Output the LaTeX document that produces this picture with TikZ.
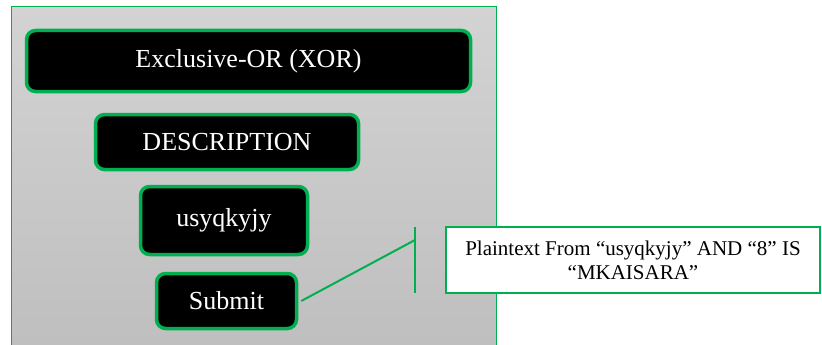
\documentclass[tikz,border=0pt]{standalone}
\usepackage{fontspec}
\setmainfont{Liberation Serif}
\definecolor{xgreen}{HTML}{00B050}
\definecolor{ptop}{HTML}{D3D3D3}
\definecolor{pbot}{HTML}{BEBEBE}
\tikzset{
  bigbox/.style={draw=xgreen, line width=3.5pt, fill=black, rounded corners=9pt,
    text=white, font=\fontsize{26}{31}\selectfont, inner sep=0pt},
  callbox/.style={draw=xgreen, line width=2pt, fill=white, inner sep=0pt,
    font=\fontsize{21}{24}\selectfont, align=center},
  callline/.style={draw=xgreen, line width=2pt}
}
\begin{document}
\begin{tikzpicture}[x=1pt,y=-1pt]
\useasboundingbox (0,0) rectangle (822,345);
\clip (0,0) rectangle (822,345);
\shade[top color=ptop, bottom color=pbot] (11,7) rectangle (496,360);
\draw[xgreen, line width=1pt] (11,360) -- (11,7) -- (496,7) -- (496,360);
\node[bigbox, minimum width=444pt, minimum height=61pt] (xor) at (248.5,61) {Exclusive-OR (XOR)};
\node[bigbox, minimum width=263pt, minimum height=55pt] (desc) at (227,142) {DESCRIPTION};
\node[bigbox, minimum width=167pt, minimum height=68pt] (key) at (224,220.5) {usyqkyjy};
\node[bigbox, minimum width=140pt, minimum height=55pt] (sub) at (226.5,301) {Submit};
\node[callbox, minimum width=374pt, minimum height=66pt] (call) at (633,260) {Plaintext From “usyqkyjy” AND “8” IS\\“MKAISARA”};
\coordinate (ct) at (415,227);
\coordinate (cb) at (415,293);
\coordinate (cj) at (415,240);
\draw[callline] ([xshift=3pt]sub.east) -- (cj);
\draw[callline] (ct) -- (cb);
\end{tikzpicture}
\end{document}
